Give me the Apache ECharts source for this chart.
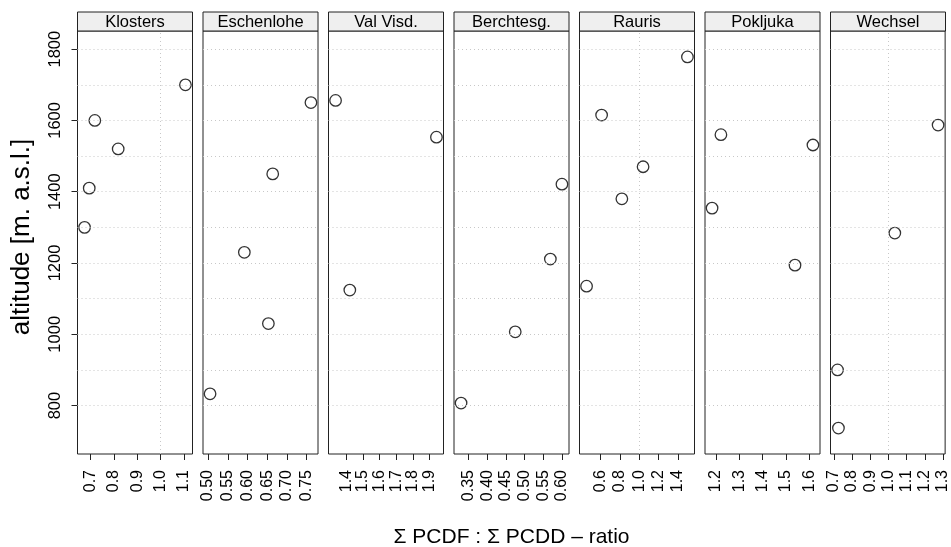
<!DOCTYPE html>
<html><head><meta charset="utf-8">
<script src="https://cdn.jsdelivr.net/npm/echarts@6/dist/echarts.min.js"></script>
<style>html,body{margin:0;padding:0;background:#fff}#c{width:951px;height:547px}</style>
</head><body><div id="c"></div>
<script>
// ---- data ----
const panelNames = ["Klosters", "Eschenlohe", "Val Visd.", "Berchtesg.", "Rauris", "Pokljuka", "Wechsel"];

const klostersX = [0.674, 0.694, 0.818, 0.718, 1.106];
const klostersY = [1300, 1410, 1520, 1600, 1700];
const eschenloheX = [0.505, 0.653, 0.592, 0.664, 0.761];
const eschenloheY = [833, 1030, 1230, 1450, 1650];
const valVisdX = [1.42, 1.943, 1.334];
const valVisdY = [1124, 1553, 1656];
const berchtesgX = [0.330, 0.475, 0.569, 0.600];
const berchtesgY = [807, 1007, 1211, 1421];
const raurisX = [0.454, 0.82, 1.04, 0.61, 1.50];
const raurisY = [1135, 1380, 1470, 1615, 1778];
const pokljukaX = [1.539, 1.183, 1.616, 1.221];
const pokljukaY = [1194, 1354, 1531, 1560];
const wechselX = [0.725, 0.72, 1.035, 1.273];
const wechselY = [737, 900, 1284, 1587];

const klostersTicks = ["0.7", "0.8", "0.9", "1.0", "1.1"];
const eschenloheTicks = ["0.50", "0.55", "0.60", "0.65", "0.70", "0.75"];
const valVisdTicks = ["1.4", "1.5", "1.6", "1.7", "1.8", "1.9"];
const berchtesgTicks = ["0.35", "0.40", "0.45", "0.50", "0.55", "0.60"];
const raurisTicks = ["0.6", "0.8", "1.0", "1.2", "1.4"];
const pokljukaTicks = ["1.2", "1.3", "1.4", "1.5", "1.6"];
const wechselTicks = ["0.7", "0.8", "0.9", "1.0", "1.1", "1.2", "1.3"];

const yTickLabels = ["800", "1000", "1200", "1400", "1600", "1800"];
const yGridValues = [800, 900, 1000, 1100, 1200, 1300, 1400, 1500, 1600, 1700, 1800];
const xRefValue = 1;

const xTitle = "\u03A3 PCDF : \u03A3 PCDD \u2013 ratio";
const yTitle = "altitude [m. a.s.l.]";

// ---- layout ----
const allX = [klostersX, eschenloheX, valVisdX, berchtesgX, raurisX, pokljukaX, wechselX];
const allY = [klostersY, eschenloheY, valVisdY, berchtesgY, raurisY, pokljukaY, wechselY];
const allTicks = [klostersTicks, eschenloheTicks, valVisdTicks, berchtesgTicks, raurisTicks, pokljukaTicks, wechselTicks];

const FONT = "Liberation Sans, Arial, sans-serif";
const plotLeft = 77.5, panelW = 115, panelStep = 125.5;
const plotTop = 31, plotH = 423, stripH = 19;
const PAD = 0.07;
const lineCol = '#222';

function padRange(arr) {
  const mn = Math.min.apply(null, arr), mx = Math.max.apply(null, arr);
  const d = mx - mn;
  return [mn - PAD * d, mx + PAD * d];
}
const yFlat = [].concat.apply([], allY);
const yRange = padRange(yFlat);

const grids = [], xAxes = [], yAxes = [], series = [], graphics = [];

panelNames.forEach((name, i) => {
  const left = plotLeft + panelStep * i;
  grids.push({
    left: left, top: plotTop, width: panelW, height: plotH,
    show: true, borderColor: lineCol, borderWidth: 1, backgroundColor: 'transparent'
  });
  const ticks = allTicks[i];
  const tickVals = ticks.map(Number);
  const xr = padRange(allX[i]);
  xAxes.push({
    gridIndex: i, type: 'value', min: xr[0], max: xr[1],
    splitLine: { show: false }, axisLine: { show: false },
    axisTick: { show: true, length: 6, customValues: tickVals, lineStyle: { color: lineCol, width: 1 } },
    axisLabel: {
      show: true, customValues: tickVals, rotate: 90, margin: 16, hideOverlap: false,
      fontSize: 16, color: '#000', fontFamily: FONT,
      formatter: v => { const s = ticks.find(t => Math.abs(Number(t) - v) < 1e-9); return s || String(v); }
    }
  });
  const yVals = yTickLabels.map(Number);
  yAxes.push({
    gridIndex: i, type: 'value', min: yRange[0], max: yRange[1],
    splitLine: { show: false }, axisLine: { show: false },
    axisTick: { show: i === 0, length: 6, customValues: yVals, lineStyle: { color: lineCol, width: 1 } },
    axisLabel: {
      show: i === 0, customValues: yVals, rotate: 90, margin: 14,
      fontSize: 16.5, color: '#000', fontFamily: FONT,
      formatter: v => String(Math.round(v))
    }
  });
  const markData = yGridValues.map(v => ({ yAxis: v }));
  if (xRefValue >= xr[0] && xRefValue <= xr[1]) markData.push({ xAxis: xRefValue });
  series.push({
    type: 'scatter', xAxisIndex: i, yAxisIndex: i,
    data: allX[i].map((x, j) => [x, allY[i][j]]),
    symbol: 'circle', symbolSize: 11.5,
    itemStyle: { color: 'rgba(0,0,0,0)', borderColor: '#000', borderWidth: 1.3 },
    emphasis: { disabled: true },
    z: 3,
    markLine: {
      silent: true, symbol: ['none', 'none'], label: { show: false },
      animation: false,
      emphasis: { disabled: true },
      lineStyle: { type: [1, 3], color: '#c8c8c8', width: 1 },
      data: markData
    }
  });
  // strip
  graphics.push({
    type: 'rect', shape: { x: left, y: plotTop - stripH, width: panelW, height: stripH },
    style: { fill: '#efefef', stroke: lineCol, lineWidth: 1 }, z: 10
  });
  graphics.push({
    type: 'text', x: left + panelW / 2, y: plotTop - stripH / 2 + 0.5,
    style: { text: name, fontSize: 16.5, fontFamily: FONT, fill: '#000', align: 'center', verticalAlign: 'middle' }, z: 11
  });
});

graphics.push({
  type: 'text', x: 22, y: 237, rotation: Math.PI / 2,
  style: { text: yTitle, fontSize: 26, fontFamily: FONT, fill: '#000', align: 'center', verticalAlign: 'middle' }
});
graphics.push({
  type: 'text', x: plotLeft + (panelStep * 6 + panelW) / 2, y: 537,
  style: { text: xTitle, fontSize: 21, fontFamily: FONT, fill: '#000', align: 'center', verticalAlign: 'middle' }
});

const chart = echarts.init(document.getElementById('c'), null, { renderer: 'canvas' });
chart.setOption({
  animation: false,
  backgroundColor: '#fff',
  textStyle: { fontFamily: FONT },
  grid: grids, xAxis: xAxes, yAxis: yAxes, series: series, graphic: graphics
});
</script>
</body></html>
